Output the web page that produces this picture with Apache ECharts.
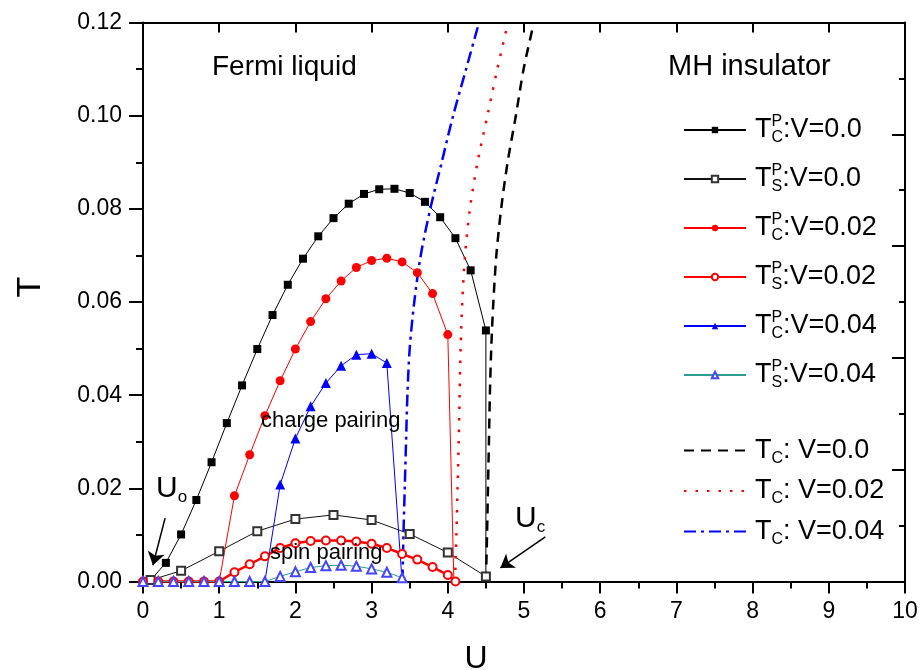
<!DOCTYPE html>
<html>
<head>
<meta charset="utf-8">
<script src="https://cdn.jsdelivr.net/npm/echarts@6/dist/echarts.min.js"></script>
<style>html,body{margin:0;padding:0;background:#fff}#main{width:919px;height:670px}</style>
</head>
<body>
<div id="main"></div>
<script>
// T_C^P, V=0.0 (filled squares)
var uTc0 = [0.1,0.3,0.5,0.7,0.9,1.1,1.3,1.5,1.7,1.9,2.1,2.3,2.5,2.7,2.9,3.1,3.3,3.5,3.7,3.9,4.1,4.3,4.5,4.5];
var tTc0 = [0.0003,0.0040,0.0101,0.0175,0.0256,0.0340,0.0421,0.0499,0.0572,0.0637,0.0693,0.0741,0.0780,0.0811,0.0832,0.0842,0.0843,0.0834,0.0815,0.0782,0.0737,0.0668,0.0539,0];
// T_S^P, V=0.0 (open squares)
var uTs0 = [0.1,0.5,1.0,1.5,2.0,2.5,3.0,3.5,4.0,4.5];
var tTs0 = [0.0003,0.0023,0.0065,0.0108,0.0134,0.0143,0.0132,0.0102,0.0062,0.0011];
// T_C^P, V=0.02 (filled circles)
var uTc02 = [1.0,1.2,1.4,1.6,1.8,2.0,2.2,2.4,2.6,2.8,3.0,3.2,3.4,3.6,3.8,4.0,4.08];
var tTc02 = [0,0.0184,0.0272,0.0356,0.0431,0.0499,0.0558,0.0607,0.0645,0.0674,0.0689,0.0694,0.0686,0.0663,0.0618,0.0530,0];
// T_S^P, V=0.02 (open circles)
var uTs02 = [0,0.2,0.4,0.6,0.8,1.0,1.2,1.4,1.6,1.8,2.0,2.2,2.4,2.6,2.8,3.0,3.2,3.4,3.6,3.8,4.0,4.1];
var tTs02 = [0,0,0,0,0,0,0.0020,0.0037,0.0054,0.0072,0.0082,0.0087,0.0088,0.0088,0.0086,0.0081,0.0072,0.0059,0.0047,0.0031,0.0014,0];
// T_C^P, V=0.04 (filled triangles)
var uTc04 = [1.6,1.8,2.0,2.2,2.4,2.6,2.8,3.0,3.2,3.4];
var tTc04 = [0,0.0208,0.0307,0.0376,0.0426,0.0463,0.0487,0.0489,0.0469,0];
// T_S^P, V=0.04 (open triangles)
var uTs04 = [0,0.2,0.4,0.6,0.8,1.0,1.2,1.4,1.6,1.8,2.0,2.2,2.4,2.6,2.8,3.0,3.2,3.4];
var tTs04 = [0,0,0,0,0,0,0,0,0,0.0011,0.0021,0.0030,0.0034,0.0035,0.0033,0.0027,0.0020,0.0008];
// T_C lines (U as a function of T)
var tLine = [0,0.01,0.02,0.03,0.04,0.05,0.06,0.07,0.08,0.09,0.10,0.11,0.12];
var uLine0 = [4.50,4.515,4.527,4.54,4.552,4.57,4.598,4.637,4.70,4.785,4.893,4.995,5.13];
var uLine02 = [4.095,4.113,4.128,4.143,4.155,4.168,4.19,4.226,4.29,4.39,4.52,4.65,4.79];
var uLine04 = [3.405,3.418,3.435,3.452,3.47,3.50,3.56,3.645,3.77,3.92,4.07,4.24,4.41];

var FONT = 'Liberation Sans';

function pts(u, t, hide) {
    return u.map(function (x, i) {
        var d = {value: [x, t[i]]};
        if (hide && hide.indexOf(i) >= 0) d.symbol = 'none';
        return d;
    });
}
function curve(u) {
    return tLine.map(function (t, i) { return [u[i], t]; });
}

var labels = {
    'Tc0': '{t|T}{sup|P}{sub|C}{n|:V=0.0}',
    'Ts0': '{t|T}{sup|P}{sub|S}{n|:V=0.0}',
    'Tc02': '{t|T}{sup|P}{sub|C}{n|:V=0.02}',
    'Ts02': '{t|T}{sup|P}{sub|S}{n|:V=0.02}',
    'Tc04': '{t|T}{sup|P}{sub|C}{n|:V=0.04}',
    'Ts04': '{t|T}{sup|P}{sub|S}{n|:V=0.04}',
    'L0': '{t|T}{sub|C}{n|: V=0.0}',
    'L02': '{t|T}{sub|C}{n|: V=0.02}',
    'L04': '{t|T}{sub|C}{n|: V=0.04}'
};
var legendText = {
    fontFamily: FONT, fontSize: 27, color: '#000',
    rich: {
        t: {fontFamily: FONT, fontSize: 27, lineHeight: 32, padding: [0, 0, 0, 4], color: '#000'},
        sup: {fontFamily: FONT, fontSize: 16, lineHeight: 16, width: 0, verticalAlign: 'top', color: '#000'},
        sub: {fontFamily: FONT, fontSize: 16, lineHeight: 16, verticalAlign: 'bottom', color: '#000'},
        n: {fontFamily: FONT, fontSize: 27, lineHeight: 32, color: '#000'}
    }
};
var subLabel = {
    u: {fontFamily: FONT, fontSize: 30, lineHeight: 34, fill: '#000'},
    s: {fontFamily: FONT, fontSize: 17, lineHeight: 14, verticalAlign: 'bottom', fill: '#000'}
};

var dom = document.getElementById('main');
var myChart = echarts.init(dom);
var option = {
    animation: false,
    backgroundColor: '#fff',
    grid: {left: 143, right: 14, top: 22.5, bottom: 88.5, containLabel: false, outerBoundsMode: 'none'},
    legend: [{
        orient: 'vertical', left: 683, top: 114, padding: 0,
        itemWidth: 62, itemHeight: 8, itemGap: 17,
        data: ['Tc0', 'Ts0', 'Tc02', 'Ts02', 'Tc04', 'Ts04'],
        formatter: function (n) { return labels[n]; },
        textStyle: legendText
    }, {
        orient: 'vertical', left: 683, top: 437, padding: 0,
        itemWidth: 62, itemHeight: 8, itemGap: 11,
        data: [{name: 'L0', itemStyle: {opacity: 0}}, {name: 'L02', itemStyle: {opacity: 0}}, {name: 'L04', itemStyle: {opacity: 0}}],
        formatter: function (n) { return labels[n]; },
        textStyle: legendText
    }],
    xAxis: [{
        type: 'value', min: 0, max: 10, interval: 1,
        name: 'U', nameLocation: 'middle', nameGap: 62,
        nameTextStyle: {fontFamily: FONT, fontSize: 32, color: '#000', padding: [0, 96, 0, 0]},
        axisLine: {onZero: false, lineStyle: {color: '#000', width: 2}},
        axisTick: {inside: false, length: 12, lineStyle: {color: '#000', width: 2}},
        minorTick: {show: true, splitNumber: 2, length: 7, lineStyle: {color: '#000', width: 2}},
        axisLabel: {fontFamily: FONT, fontSize: 23, color: '#000', margin: 19},
        splitLine: {show: false}
    }, {
        type: 'value', min: 0, max: 10, interval: 1, position: 'top',
        axisLine: {onZero: false, lineStyle: {color: '#000', width: 2}},
        axisTick: {inside: true, length: 10, lineStyle: {color: '#000', width: 2}},
        axisLabel: {show: false},
        splitLine: {show: false}
    }],
    yAxis: [{
        type: 'value', min: 0, max: 0.12, interval: 0.02,
        name: 'T', nameLocation: 'middle', nameGap: 95, nameRotate: 90,
        nameTextStyle: {fontFamily: FONT, fontSize: 34, color: '#000', padding: [0, 0, 0, 30]},
        axisLine: {onZero: false, lineStyle: {color: '#000', width: 2}},
        axisTick: {inside: false, length: 14, lineStyle: {color: '#000', width: 2}},
        minorTick: {show: true, splitNumber: 2, length: 7, lineStyle: {color: '#000', width: 2}},
        axisLabel: {fontFamily: FONT, fontSize: 23, color: '#000', margin: 21,
            formatter: function (v) { return v.toFixed(2); }},
        splitLine: {show: false}
    }, {
        type: 'value', min: 0, max: 5, interval: 1, position: 'right',
        axisLine: {onZero: false, lineStyle: {color: '#000', width: 2}},
        axisTick: {inside: true, length: 13, lineStyle: {color: '#000', width: 2}},
        minorTick: {show: true, splitNumber: 2, length: 6, lineStyle: {color: '#000', width: 2}},
        axisLabel: {show: false},
        splitLine: {show: false}
    }],
    graphic: [
        {type: 'text', left: 212, top: 53, z: 100, style: {text: 'Fermi liquid', font: '28px ' + FONT, fill: '#000'}},
        {type: 'text', left: 668, top: 52, z: 100, style: {text: 'MH insulator', font: '29px ' + FONT, fill: '#000'}},
        {type: 'text', left: 261, top: 410, z: 100, style: {text: 'charge pairing', font: '22px ' + FONT, fill: '#000'}},
        {type: 'text', left: 270, top: 542, z: 100, style: {text: 'spin pairing', font: '22px ' + FONT, fill: '#000'}},
        {type: 'text', left: 156, top: 474, z: 100, style: {text: '{u|U}{s|o}', rich: subLabel}},
        {type: 'text', left: 515, top: 504, z: 100, style: {text: '{u|U}{s|c}', rich: subLabel}}
    ],
    series: [{
        name: 'Tc0', type: 'line', data: pts(uTc0, tTc0, [23]),
        symbol: 'rect', symbolSize: 8, itemStyle: {color: '#000'},
        lineStyle: {color: '#000', width: 1},
        markLine: {
            silent: true, symbol: ['none', 'arrow'], symbolSize: 13,
            label: {show: false},
            lineStyle: {color: '#000', width: 1.5, type: 'solid'},
            data: [
                [{coord: [0.29, 0.0136]}, {coord: [0.13, 0.0035]}],
                [{coord: [5.28, 0.0096]}, {coord: [4.69, 0.0029]}]
            ]
        }
    }, {
        name: 'Ts0', type: 'line', data: pts(uTs0, tTs0),
        symbol: 'emptyRect', symbolSize: 8, itemStyle: {color: '#333', borderWidth: 1},
        lineStyle: {color: '#111', width: 1}
    }, {
        name: 'Tc02', type: 'line', data: pts(uTc02, tTc02, [0, 16]),
        symbol: 'circle', symbolSize: 9, itemStyle: {color: '#ff0000'},
        lineStyle: {color: '#ff0000', width: 1}
    }, {
        name: 'Ts02', type: 'line', data: pts(uTs02, tTs02),
        symbol: 'emptyCircle', symbolSize: 8, itemStyle: {color: '#ff0000', borderWidth: 1},
        lineStyle: {color: '#ff0000', width: 2.5}
    }, {
        name: 'Tc04', type: 'line', data: pts(uTc04, tTc04, [0, 9]),
        symbol: 'triangle', symbolSize: 10, itemStyle: {color: '#0000ff'},
        lineStyle: {color: '#0000ff', width: 1}
    }, {
        name: 'Ts04', type: 'line', data: pts(uTs04, tTs04),
        symbol: 'emptyTriangle', symbolSize: 9, itemStyle: {color: '#4444ff', borderWidth: 1},
        lineStyle: {color: '#2a9d8f', width: 1}
    }, {
        name: 'L0', type: 'line', data: curve(uLine0), smooth: 0.3, showSymbol: false, symbol: 'none',
        lineStyle: {color: '#000', width: 2.5, type: [10, 7]}
    }, {
        name: 'L02', type: 'line', data: curve(uLine02), smooth: 0.3, showSymbol: false, symbol: 'none',
        lineStyle: {color: '#ff0000', width: 2.5, type: [2.5, 9]}
    }, {
        name: 'L04', type: 'line', data: curve(uLine04), smooth: 0.3, showSymbol: false, symbol: 'none',
        lineStyle: {color: '#0000ff', width: 2.5, type: [12, 5, 3, 5]}
    }]
};
myChart.setOption(option);
</script>
</body>
</html>
